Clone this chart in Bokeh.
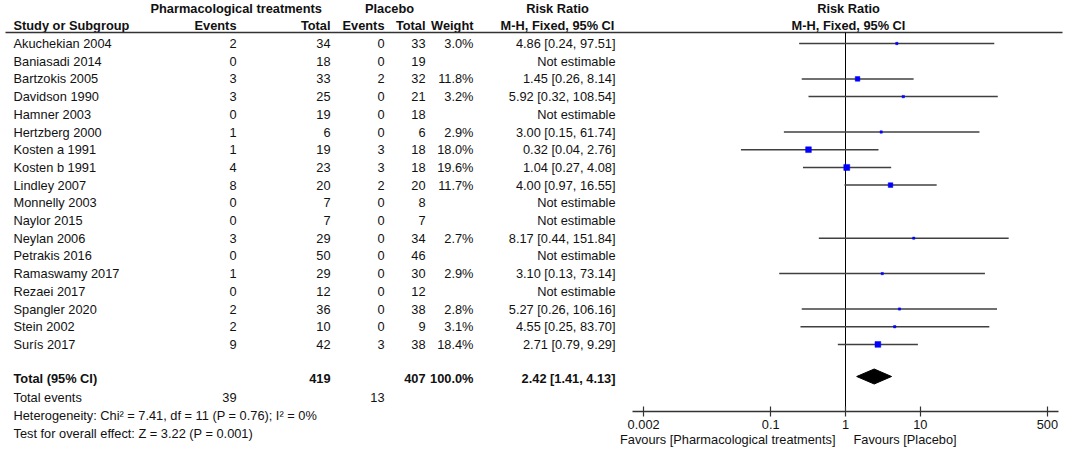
import math
from bokeh.plotting import figure
from bokeh.models import Range1d, LogScale, LogAxis, FixedTicker, CustomJSTickFormatter
from bokeh.core.properties import value
from bokeh.embed import file_html
from bokeh.resources import INLINE

# ---------------- data ----------------
studies = ["Akuchekian 2004", "Baniasadi 2014", "Bartzokis 2005", "Davidson 1990", "Hamner 2003",
           "Hertzberg 2000", "Kosten a 1991", "Kosten b 1991", "Lindley 2007", "Monnelly 2003",
           "Naylor 2015", "Neylan 2006", "Petrakis 2016", "Ramaswamy 2017", "Rezaei 2017",
           "Spangler 2020", "Stein 2002", "Surís 2017"]
pharm_events = [2, 0, 3, 3, 0, 1, 1, 4, 8, 0, 0, 3, 0, 1, 0, 2, 2, 9]
pharm_total = [34, 18, 33, 25, 19, 6, 19, 23, 20, 7, 7, 29, 50, 29, 12, 36, 10, 42]
placebo_events = [0, 0, 2, 0, 0, 0, 3, 3, 2, 0, 0, 0, 0, 0, 0, 0, 0, 3]
placebo_total = [33, 19, 32, 21, 18, 6, 18, 18, 20, 8, 7, 34, 46, 30, 12, 38, 9, 38]
weights = [3.0, None, 11.8, 3.2, None, 2.9, 18.0, 19.6, 11.7, None, None, 2.7, None, 2.9, None, 2.8, 3.1, 18.4]
risk_ratio = [4.86, None, 1.45, 5.92, None, 3.00, 0.32, 1.04, 4.00, None, None, 8.17, None, 3.10, None, 5.27, 4.55, 2.71]
ci_low = [0.24, None, 0.26, 0.32, None, 0.15, 0.04, 0.27, 0.97, None, None, 0.44, None, 0.13, None, 0.26, 0.25, 0.79]
ci_high = [97.51, None, 8.14, 108.54, None, 61.74, 2.76, 4.08, 16.55, None, None, 151.84, None, 73.14, None, 106.16, 83.70, 9.29]

total_pharm = 419
total_placebo = 407
total_weight = 100.0
total_rr, total_low, total_high = 2.42, 1.41, 4.13
events_pharm_sum = 39
events_placebo_sum = 13
heterogeneity_text = "Heterogeneity: Chi² = 7.41, df = 11 (P = 0.76); I² = 0%"
overall_text = "Test for overall effect: Z = 3.22 (P = 0.001)"
axis_ticks = [0.002, 0.1, 1, 10, 500]
favours_left = "Favours [Pharmacological treatments]"
favours_right = "Favours [Placebo]"

# ---------------- layout (page pixels) ----------------
W, H = 1072, 449
FONT = value("Liberation Sans")
FS = value("12.8px")
TXT = "#111111"

ROW0, ROWSTEP = 43.0, 17.7
HDR1, HDR2, RULE = 8, 25, 32
TOTAL_Y, TEV_Y, HET_Y, TEST_Y = 378, 397, 415, 433
AXIS_Y, FAV_Y = 411, 439

C_STUDY, C_PE, C_PT, C_CE, C_CT, C_W, C_CI, C_CIH = 13, 236, 330, 384, 425, 473, 615, 557

PX_DECADE, ONE_X = 74.8, 845.0
lo_exp = (0 - ONE_X) / PX_DECADE
hi_exp = (W - ONE_X) / PX_DECADE

p = figure(width=W, height=H, output_backend="svg", toolbar_location=None,
           x_range=Range1d(0, W), y_range=Range1d(H, 0),
           x_axis_type=None, y_axis_type=None, min_border=0,
           outline_line_color=None, background_fill_color="white", border_fill_color="white")
p.extra_x_ranges = {"rr": Range1d(10 ** lo_exp, 10 ** hi_exp)}
p.extra_x_scales = {"rr": LogScale()}

row_y = [ROW0 + ROWSTEP * i for i in range(len(studies))]


def txt(x, y, t, align="left", bold=False, **kw):
    p.text(x=x, y=y, text=t, text_font=FONT, text_font_size=FS, text_color=TXT,
           text_align=align, text_baseline="middle",
           text_font_style="bold" if bold else "normal", **kw)


# headers
txt([150], [HDR1], ["Pharmacological treatments"], bold=True)
txt([389], [HDR1], ["Placebo"], align="center", bold=True)
txt([C_CIH], [HDR1], ["Risk Ratio"], align="center", bold=True)
txt([C_STUDY], [HDR2], ["Study or Subgroup"], bold=True)
txt([C_PE, C_PT, C_CE, C_CT, C_W], [HDR2] * 5, ["Events", "Total", "Events", "Total", "Weight"],
    align="right", bold=True)
txt([C_CIH], [HDR2], ["M-H, Fixed, 95% CI"], align="center", bold=True)
txt([1, 1], [HDR1, HDR2], ["Risk Ratio", "M-H, Fixed, 95% CI"], align="center", bold=True,
    x_range_name="rr", x_offset=3)

p.segment(x0=[5], x1=[1062], y0=[RULE], y1=[RULE], line_color="#333333", line_width=1.5)

# study rows
n = len(studies)
txt([C_STUDY] * n, row_y, studies)
txt([C_PE] * n, row_y, [str(v) for v in pharm_events], align="right")
txt([C_PT] * n, row_y, [str(v) for v in pharm_total], align="right")
txt([C_CE] * n, row_y, [str(v) for v in placebo_events], align="right")
txt([C_CT] * n, row_y, [str(v) for v in placebo_total], align="right")
txt([C_W] * n, row_y, ["" if w is None else f"{w:.1f}%" for w in weights], align="right")
ci_txt = ["Not estimable" if r is None else f"{r:.2f} [{l:.2f}, {h:.2f}]"
          for r, l, h in zip(risk_ratio, ci_low, ci_high)]
txt([C_CI] * n, row_y, ci_txt, align="right")

# totals
txt([C_STUDY], [TOTAL_Y], ["Total (95% CI)"], bold=True)
txt([C_PT, C_CT, C_W, C_CI], [TOTAL_Y] * 4,
    [str(total_pharm), str(total_placebo), f"{total_weight:.1f}%",
     f"{total_rr:.2f} [{total_low:.2f}, {total_high:.2f}]"], align="right", bold=True)
txt([C_STUDY], [TEV_Y], ["Total events"])
txt([C_PE, C_CE], [TEV_Y] * 2, [str(events_pharm_sum), str(events_placebo_sum)], align="right")
txt([C_STUDY, C_STUDY], [HET_Y, TEST_Y], [heterogeneity_text, overall_text])

# forest plot
idx = [i for i, r in enumerate(risk_ratio) if r is not None]
fy = [row_y[i] for i in idx]
p.segment(x0=1, x1=1, y0=RULE, y1=AXIS_Y, x_range_name="rr", line_color="black", line_width=1)
p.segment(x0=[ci_low[i] for i in idx], x1=[ci_high[i] for i in idx], y0=fy, y1=fy,
          x_range_name="rr", line_color="#404040", line_width=1.5)
p.scatter(x=[risk_ratio[i] for i in idx], y=fy, size=[1.35 * math.sqrt(weights[i]) for i in idx],
          marker="square", fill_color="#0000ff", line_color="#0000ff", line_width=0.5, x_range_name="rr")
dh = 7.5
dy = TOTAL_Y - 2
p.patch(x=[total_low, total_rr, total_high, total_rr], y=[dy, dy - dh, dy, dy + dh],
        x_range_name="rr", fill_color="black", line_color="black")

ax = LogAxis(x_range_name="rr", fixed_location=AXIS_Y, bounds=(1 / 700, 700),
             ticker=FixedTicker(ticks=axis_ticks, minor_ticks=[]),
             formatter=CustomJSTickFormatter(code="return tick.toString();"))
ax.axis_line_color = "#333333"
ax.axis_line_width = 1.5
ax.major_tick_line_color = "#333333"
ax.major_tick_line_width = 1.2
ax.major_tick_in = 5
ax.major_tick_out = 5
ax.minor_tick_in = 0
ax.minor_tick_out = 0
ax.major_label_standoff = 3
ax.major_label_text_font = "Liberation Sans"
ax.major_label_text_font_size = "12.8px"
ax.major_label_text_color = TXT
p.add_layout(ax, "below")

txt([1], [FAV_Y], [favours_left], align="right", x_range_name="rr", x_offset=-10)
txt([1], [FAV_Y], [favours_right], align="left", x_range_name="rr", x_offset=8)

open("out.html", "w").write(file_html(p, INLINE))
